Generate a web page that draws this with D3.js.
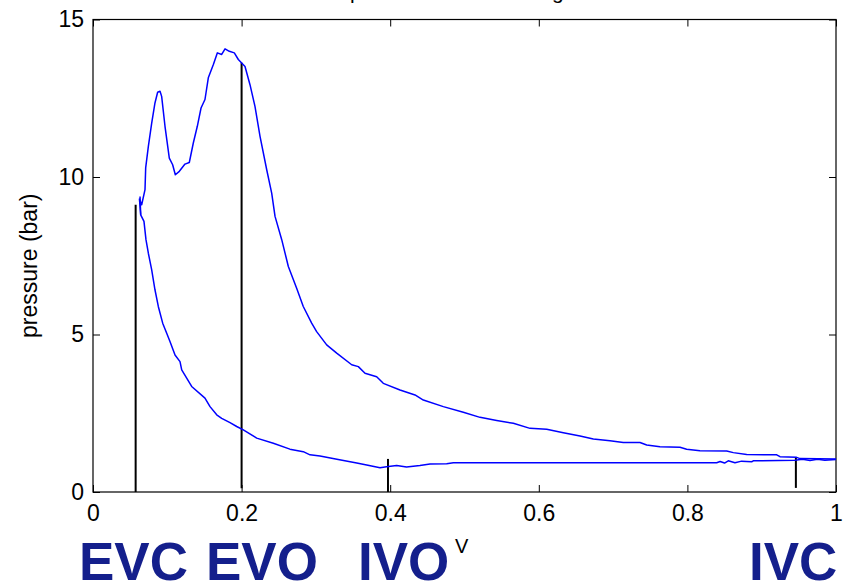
<!DOCTYPE html>
<html><head><meta charset="utf-8">
<script src="https://cdn.jsdelivr.net/npm/d3@7/dist/d3.min.js"></script>
<style>body{margin:0;background:#fff}svg{display:block}</style>
</head><body><svg id="chart" width="845" height="585"></svg>
<script>
// ---- data (normalised volume vs pressure in bar) ----
const upperVolume = [0.0642,0.0625,0.0655,0.070,0.0709,0.0745,0.079,0.0834,0.087,0.0902,0.0924,0.0969,0.1027,0.1072,0.1108,0.1162,0.1238,0.1296,0.135,0.1404,0.1454,0.1507,0.1552,0.162,0.1673,0.1732,0.1777,0.1835,0.1902,0.1956,0.2046,0.2113,0.218,0.2248,0.2338,0.2405,0.245,0.254,0.2629,0.2741,0.283,0.2943,0.301,0.3145,0.328,0.3482,0.3571,0.3661,0.3818,0.3907,0.4132,0.4334,0.4446,0.4715,0.4984,0.5209,0.5433,0.5657,0.5882,0.6106,0.633,0.6555,0.6734,0.6958,0.7137,0.7362,0.7452,0.7631,0.79,0.799,0.8169,0.8529,0.8618,0.8798,0.9202,0.9246,0.947,0.9516,1.0];
const upperPressure = [8.80,9.30,9.12,9.6,10.29,10.97,11.71,12.35,12.69,12.72,12.56,11.61,10.60,10.39,10.07,10.18,10.41,10.46,11.08,11.61,12.19,12.46,13.15,13.57,13.94,13.89,14.07,13.99,13.94,13.73,13.51,12.93,12.24,11.29,10.23,9.49,8.75,8.01,7.16,6.47,5.89,5.36,5.09,4.67,4.41,4.04,3.98,3.77,3.66,3.45,3.24,3.08,2.92,2.71,2.53,2.37,2.27,2.18,2.02,1.99,1.88,1.78,1.68,1.63,1.57,1.57,1.49,1.44,1.42,1.36,1.31,1.30,1.25,1.19,1.18,1.12,1.10,1.06,1.05];
const lowerVolume = [0.0633,0.0642,0.0686,0.0713,0.0745,0.079,0.0834,0.0879,0.0938,0.0992,0.1036,0.1104,0.1171,0.1194,0.1328,0.1507,0.1575,0.1665,0.1732,0.1844,0.1934,0.2023,0.2203,0.2427,0.265,0.283,0.2921,0.3055,0.33,0.355,0.37,0.3863,0.395,0.4087,0.422,0.44,0.4536,0.476,0.485,0.8394,0.844,0.85,0.855,0.864,0.873,0.8865,0.8887,0.9448,0.955,0.965,0.975,0.985,1.0];
const lowerPressure = [9.38,8.80,8.59,8.01,7.58,7.05,6.42,5.89,5.36,5.04,4.78,4.35,4.14,3.88,3.35,2.98,2.71,2.45,2.34,2.20,2.08,1.97,1.71,1.55,1.36,1.28,1.18,1.14,1.03,0.92,0.85,0.77,0.80,0.84,0.79,0.84,0.89,0.90,0.93,0.93,0.97,0.92,0.99,0.93,0.98,0.96,0.99,1.01,1.04,1.00,1.04,1.01,1.03];

const eventNames  = ["EVC","EVO","IVO","IVC"];
const eventVolume = [0.0574,0.2,0.397,0.946];
const eventLow    = [0,0.12,0,0.13];
const eventHigh   = [9.12,13.63,1.05,1.11];

const xTicks = [0,0.2,0.4,0.6,0.8,1];
const yTicks = [0,5,10,15];
const yLabelText = "pressure (bar)";
const titleText = "pressure - volume diagram";
const xLabelText = "V";

// ---- layout ----
const W = 845, H = 585;
const plot = {left:93, right:836, top:19.5, bottom:492};
const FONT = "'Liberation Sans', Arial, Helvetica, sans-serif";
const eventLabelX = [79, 206, 358, 749];
const eventLabelBaseline = 580;
const eventColor = "#141f8c";

const svg = d3.select("#chart");
svg.append("rect").attr("width",W).attr("height",H).attr("fill","#fff");

const x = d3.scaleLinear().domain([0,1]).range([plot.left, plot.right]);
const y = d3.scaleLinear().domain([0,15]).range([plot.bottom, plot.top]);

// title (mostly above the visible area, as in the reference)
svg.append("text").attr("x",350).attr("y",-1.5)
  .attr("font-family",FONT).attr("font-size",21).attr("fill","#000")
  .text(titleText);

// axes with inward ticks
const fmt = d => d3.format("")(d);
const gB = svg.append("g").attr("transform",`translate(0,${plot.bottom})`)
  .call(d3.axisBottom(x).tickValues(xTicks).tickFormat(fmt).tickSizeInner(-7).tickSizeOuter(0).tickPadding(13));
const gT = svg.append("g").attr("transform",`translate(0,${plot.top})`)
  .call(d3.axisTop(x).tickValues(xTicks).tickFormat("").tickSizeInner(-7).tickSizeOuter(0));
const gL = svg.append("g").attr("transform",`translate(${plot.left},0)`)
  .call(d3.axisLeft(y).tickValues(yTicks).tickFormat(fmt).tickSizeInner(-7).tickSizeOuter(0).tickPadding(9));
const gR = svg.append("g").attr("transform",`translate(${plot.right},0)`)
  .call(d3.axisRight(y).tickValues(yTicks).tickFormat("").tickSizeInner(-7).tickSizeOuter(0));
[gB,gT,gL,gR].forEach(g=>{
  g.select(".domain").remove();
  g.selectAll("line").attr("stroke","#000").attr("stroke-width",1);
  g.selectAll("text").attr("font-family",FONT).attr("font-size",23).attr("fill","#000");
  g.attr("font-family",FONT).attr("font-size",23);
});

// frame
svg.append("rect").attr("x",plot.left).attr("y",plot.top)
  .attr("width",plot.right-plot.left).attr("height",plot.bottom-plot.top)
  .attr("fill","none").attr("stroke","#000").attr("stroke-width",1.2);

// y label
svg.append("text")
  .attr("transform",`translate(37,${(plot.top+plot.bottom)/2+10}) rotate(-90)`)
  .attr("text-anchor","middle").attr("font-family",FONT).attr("font-size",23).attr("fill","#000")
  .text(yLabelText);

// event marker lines
const events = eventNames.map((n,i)=>({name:n, v:eventVolume[i], lo:eventLow[i], hi:eventHigh[i], lx:eventLabelX[i]}));
svg.append("g").selectAll("line").data(events).join("line")
  .attr("x1",d=>x(d.v)).attr("x2",d=>x(d.v))
  .attr("y1",d=>y(d.lo)).attr("y2",d=>y(d.hi))
  .attr("stroke","#000").attr("stroke-width",2);

// pressure curves
const line = d3.line().x(d=>x(d[0])).y(d=>y(d[1]));
const upper = upperVolume.map((v,i)=>[v,upperPressure[i]]);
const lower = lowerVolume.map((v,i)=>[v,lowerPressure[i]]);
svg.append("g").selectAll("path").data([upper,lower]).join("path")
  .attr("d",line).attr("fill","none").attr("stroke","#0000ff").attr("stroke-width",1.5)
  .attr("stroke-linejoin","round");

// event labels
svg.append("g").selectAll("text").data(events).join("text")
  .attr("x",d=>d.lx).attr("y",eventLabelBaseline)
  .attr("font-family",FONT).attr("font-weight","bold").attr("font-size",53)
  .attr("fill",eventColor).text(d=>d.name);

// x-axis variable label (superscript V)
svg.append("text").attr("x",455).attr("y",553)
  .attr("font-family",FONT).attr("font-size",20).attr("fill","#000")
  .text(xLabelText);
</script></body></html>
